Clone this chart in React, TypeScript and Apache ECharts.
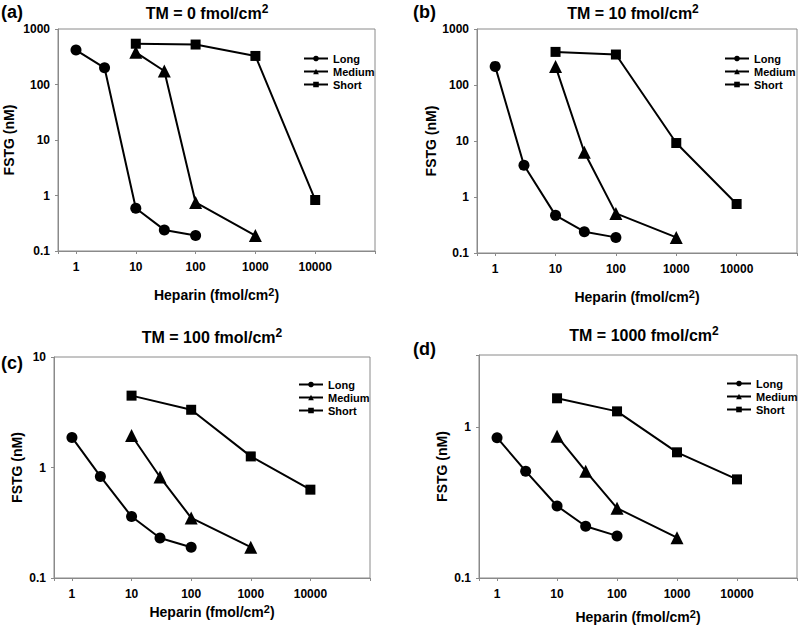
import React, { useEffect, useRef } from "react";
import * as echarts from "echarts";

// ---- Data ----
const panels = ["(a)", "(b)", "(c)", "(d)"];
const tmValues = ["0", "10", "100", "1000"];
const xTickLabels = [1, 10, 100, 1000, 10000];
const yTickLabels = [0.1, 1, 10, 100, 1000];

const heparinLong = [1, 3, 10, 30, 100];
const heparinMedium = [10, 30, 100, 1000];
const heparinShort = [10, 100, 1000, 10000];

const aLong = [417, 200, 0.59, 0.24, 0.19];
const aMedium = [380, 175, 0.75, 0.19];
const aShort = [543, 525, 327, 0.83];

const bLong = [215, 3.7, 0.47, 0.24, 0.19];
const bMedium = [215, 6.3, 0.51, 0.19];
const bShort = [390, 350, 9.2, 0.75];

const cLong = [1.87, 0.83, 0.36, 0.23, 0.19];
const cMedium = [1.95, 0.82, 0.35, 0.19];
const cShort = [4.47, 3.33, 1.26, 0.63];

const dLong = [0.85, 0.51, 0.3, 0.22, 0.19];
const dMedium = [0.87, 0.51, 0.29, 0.185];
const dShort = [1.55, 1.27, 0.68, 0.45];

const yMaxes = [1000, 1000, 10, 3];

const panelData = [
  [aLong, aMedium, aShort],
  [bLong, bMedium, bShort],
  [cLong, cMedium, cShort],
  [dLong, dMedium, dShort],
];

// ---- Layout ----
const FONT = "Arial, 'Liberation Sans', sans-serif";
const grids = [
  { left: 58, top: 29, width: 317, height: 222 },
  { left: 477, top: 29, width: 322, height: 224 },
  { left: 54, top: 357, width: 316, height: 221 },
  { left: 479, top: 355, width: 320, height: 223 },
];
const xNameGaps = [35, 35, 25, 30];
const yNameGaps = [42, 39, 30, 30];
const titlePos = [
  [207, 13],
  [633, 13],
  [212, 337],
  [644, 335],
];
const panelLabelPos = [
  [1, 12],
  [413, 12],
  [1, 363],
  [413, 349],
];
const legendPos = [
  [298, 48],
  [719, 48],
  [293, 374],
  [721, 373],
];

const seriesNames = ["Long", "Medium", "Short"];
const seriesX = [heparinLong, heparinMedium, heparinShort];
const symbols = ["circle", "triangle", "rect"];
const symbolSizes = [11, 13, 10];

function isLabel(v: number, list: number[]) {
  return list.some((t) => Math.abs(Math.log10(v) - Math.log10(t)) < 1e-6);
}

export default function App() {
  const ref = useRef<HTMLDivElement>(null);
  useEffect(() => {
    if (!ref.current) return;
    const chart = echarts.init(ref.current, undefined, { renderer: "svg" });

    const gray = "#8a8a8a";
    const supRich = {
      m: { fontFamily: FONT, fontWeight: "bold", fontSize: 14, color: "#000", lineHeight: 18 },
      s: {
        fontFamily: FONT,
        fontWeight: "bold",
        fontSize: 11,
        color: "#000",
        verticalAlign: "top",
      },
    };

    const xAxes = grids.map((_, i) => ({
      type: "log",
      logBase: 10,
      gridIndex: i,
      min: 0.5,
      max: 100000,
      name: "{m|Heparin (fmol/cm}{s|2}{m|)}",
      nameLocation: "middle",
      nameGap: xNameGaps[i],
      nameTextStyle: { rich: supRich },
      axisLine: { show: true, lineStyle: { color: gray, width: 1 } },
      axisTick: { show: true, length: 3, lineStyle: { color: gray } },
      splitLine: { show: false },
      axisLabel: {
        margin: 10,
        fontFamily: FONT,
        fontWeight: "bold",
        fontSize: 12,
        color: "#000",
        formatter: (v: number) => (isLabel(v, xTickLabels) ? String(Math.round(v)) : ""),
      },
    }));

    const yAxes = grids.map((_, i) => ({
      type: "log",
      logBase: 10,
      gridIndex: i,
      min: 0.1,
      max: yMaxes[i],
      name: "FSTG (nM)",
      nameLocation: "middle",
      nameGap: yNameGaps[i],
      nameTextStyle: {
        fontFamily: FONT,
        fontWeight: "bold",
        fontSize: 14,
        color: "#000",
      },
      axisLine: { show: true, lineStyle: { color: gray, width: 1 } },
      axisTick: { show: true, length: 3, lineStyle: { color: gray } },
      splitLine: { show: false },
      axisLabel: {
        margin: 8,
        fontFamily: FONT,
        fontWeight: "bold",
        fontSize: 12,
        color: "#000",
        formatter: (v: number) => {
          if (!isLabel(v, yTickLabels)) return "";
          const t = yTickLabels.find((t) => Math.abs(Math.log10(v) - Math.log10(t)) < 1e-6)!;
          return String(t);
        },
      },
    }));

    const series: any[] = [];
    panelData.forEach((sets, gi) => {
      sets.forEach((ys, si) => {
        series.push({
          type: "line",
          name: seriesNames[si],
          xAxisIndex: gi,
          yAxisIndex: gi,
          data: ys.map((y, k) => [seriesX[si][k], y]),
          symbol: symbols[si],
          symbolSize: symbolSizes[si],
          showSymbol: true,
          lineStyle: { color: "#000", width: 2 },
          itemStyle: { color: "#000" },
          emphasis: { disabled: true },
        });
      });
    });

    const legends = legendPos.map(([l, t]) => ({
      left: l,
      top: t,
      orient: "vertical",
      itemWidth: 24,
      itemHeight: 7,
      itemGap: 2,
      selectedMode: false,
      data: seriesNames,
      textStyle: {
        fontFamily: FONT,
        fontWeight: "bold",
        fontSize: 11,
        color: "#000",
        padding: [0, 0, 0, 0],
      },
    }));

    const graphics: any[] = [];
    titlePos.forEach(([x, y], i) => {
      graphics.push({
        type: "text",
        x,
        y,
        style: {
          text: `{m|TM = ${tmValues[i]} fmol/cm}{s|2}`,
          textAlign: "center",
          textVerticalAlign: "middle",
          rich: {
            m: { fontFamily: FONT, fontWeight: "bold", fontSize: 16, fill: "#000", color: "#000", lineHeight: 21 },
            s: {
              fontFamily: FONT,
              fontWeight: "bold",
              fontSize: 12,
              fill: "#000",
              color: "#000",
              verticalAlign: "top",
            },
          },
        },
      });
    });
    panelLabelPos.forEach(([x, y], i) => {
      graphics.push({
        type: "text",
        x,
        y,
        style: {
          text: panels[i],
          fontFamily: FONT,
          fontWeight: "bold",
          fontSize: 18,
          fill: "#000",
          textAlign: "left",
          textVerticalAlign: "middle",
        },
      });
    });

    chart.setOption({
      animation: false,
      backgroundColor: "#fff",
      grid: grids.map((g) => ({
        ...g,
        show: true,
        borderColor: gray,
        borderWidth: 1,
        backgroundColor: "transparent",
        containLabel: false,
      })),
      xAxis: xAxes,
      yAxis: yAxes,
      legend: legends,
      series,
      graphic: graphics,
    });

    return () => chart.dispose();
  }, []);

  return (
    <div
      ref={ref}
      style={{ position: "fixed", left: 0, top: 0, width: 800, height: 632 }}
    />
  );
}
